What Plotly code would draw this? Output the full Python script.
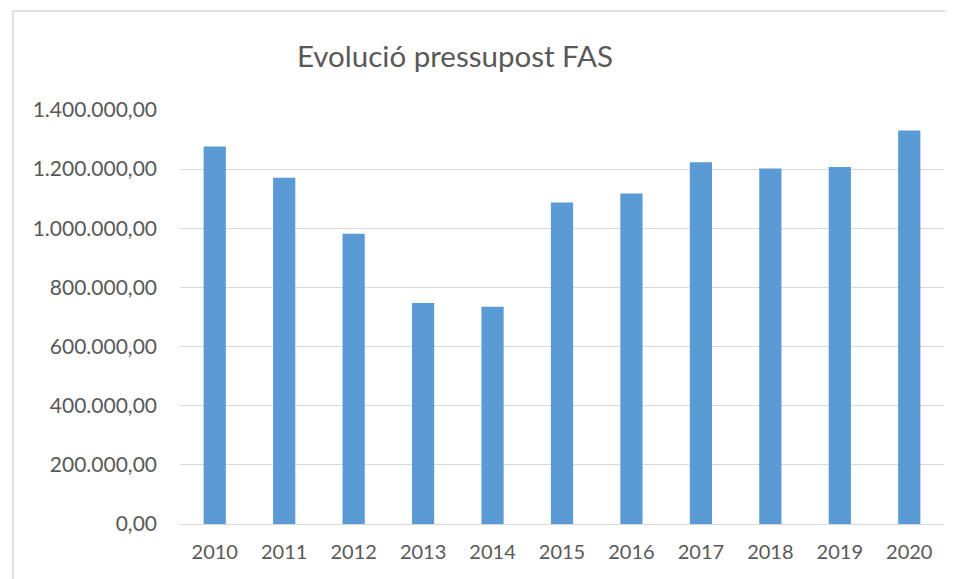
import plotly.graph_objects as go

years = ["2010", "2011", "2012", "2013", "2014", "2015", "2016", "2017", "2018", "2019", "2020"]
budget = [1276500, 1171000, 981500, 747000, 734500, 1087500, 1118000, 1223500, 1202500, 1207000, 1330500]
y_ticks = [0, 200000, 400000, 600000, 800000, 1000000, 1200000, 1400000]

# the page body has an 8px default margin; figure is sized to fill the rest of the window
OFF = 8
W, H = 954 - OFF, 579 - OFF
L, R, T, B = 180 - OFF, 10, 110 - OFF, 54.5
pw, ph = W - L - R, H - T - B


def px_x(px):
    return (px - OFF - L) / pw


def px_y(py):
    return (H - B - (py - OFF)) / ph


fig = go.Figure(go.Bar(x=years, y=budget, marker=dict(color="#5B9BD5", line=dict(width=0)),
                       width=0.32, hoverinfo="x+y"))

font_family = "Lato, 'Open Sans', sans-serif"
fig.update_layout(
    width=W, height=H,
    margin=dict(l=L, r=R, t=T, b=B),
    paper_bgcolor="white", plot_bgcolor="white",
    separators=",.",
    showlegend=False,
    title=dict(text="Evolució pressupost FAS", x=(455 - OFF) / W, xref="container", xanchor="center",
               y=1 - (57 - OFF) / H, yref="container", yanchor="middle",
               font=dict(family=font_family, size=29.5, color="#595959")),
    xaxis=dict(tickfont=dict(family=font_family, size=20, color="#595959"), showgrid=False,
               showline=False, ticks="", ticklabelstandoff=14),
    yaxis=dict(range=[0, 1400000], tickvals=y_ticks, tickformat=",.2f",
               tickfont=dict(family=font_family, size=21, color="#595959"),
               gridcolor="#D9D9D9", gridwidth=1, zeroline=True, zerolinecolor="#D9D9D9",
               zerolinewidth=1, showline=False, ticks="", ticklabelstandoff=22),
    shapes=[
        dict(type="line", xref="paper", yref="paper", x0=px_x(13), x1=px_x(960), y0=px_y(11), y1=px_y(11),
             line=dict(color="#D9D9D9", width=1.5)),
        dict(type="line", xref="paper", yref="paper", x0=px_x(13), x1=px_x(13), y0=px_y(11), y1=px_y(590),
             line=dict(color="#D9D9D9", width=1.5)),
    ],
)

fig.write_html("out.html")
